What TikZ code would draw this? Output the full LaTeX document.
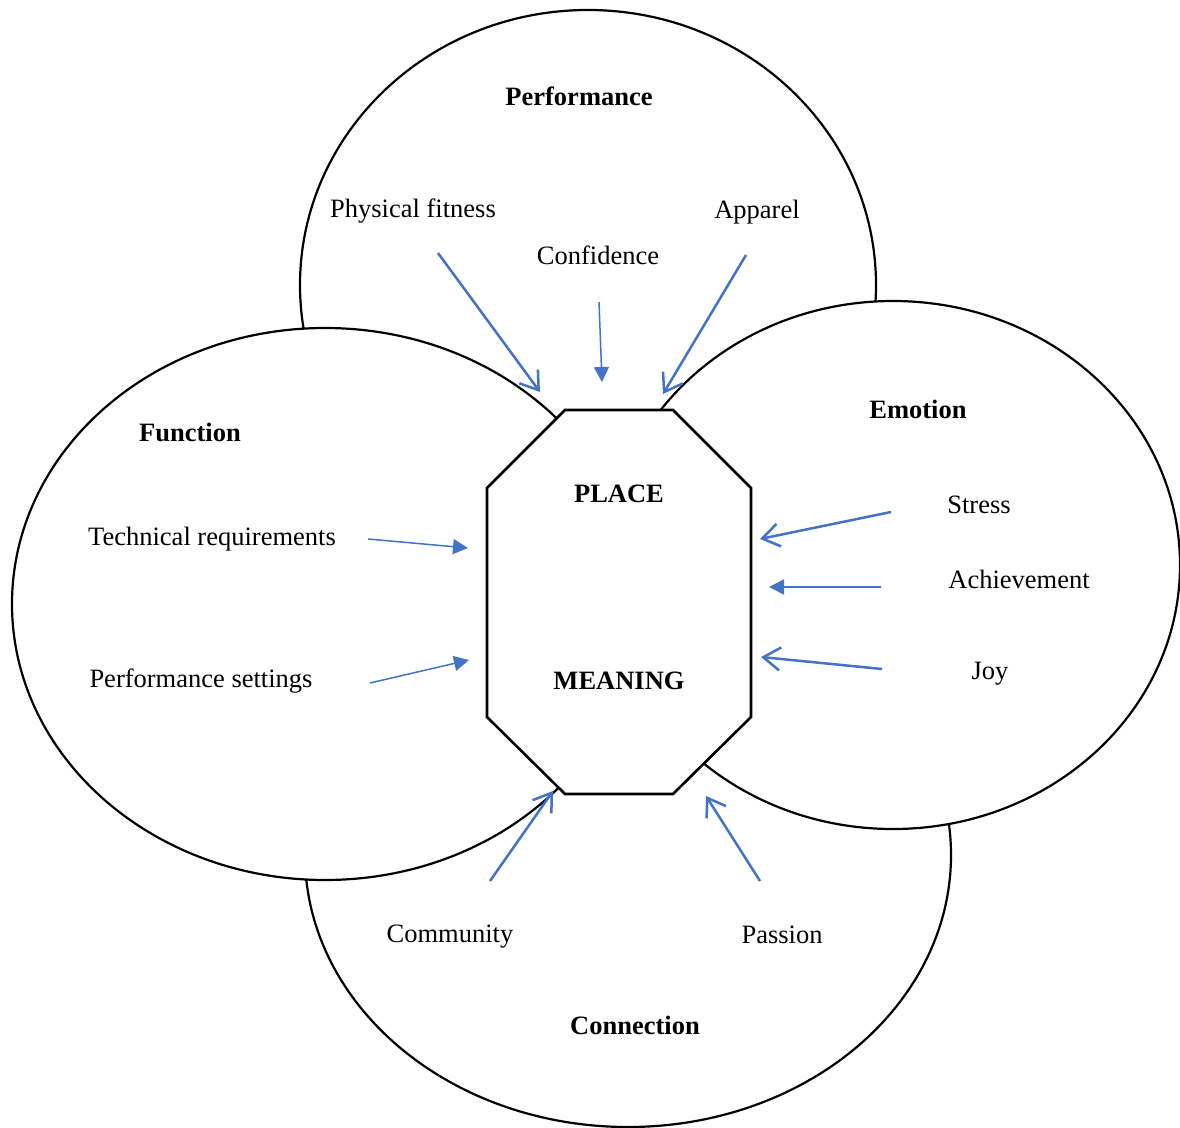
\documentclass[tikz,border=0pt]{standalone}
\usepackage{fontspec}
\setmainfont{Liberation Serif}
\usetikzlibrary{arrows.meta}
\definecolor{arrowblue}{HTML}{4472C4}
\begin{document}
\begin{tikzpicture}[x=1pt,y=-1pt,
  circle line/.style={draw=black,line width=2.2pt,fill=white},
  label text/.style={font=\fontsize{26.5}{30}\selectfont,inner sep=0pt,text height=17.5pt,text depth=0pt},
  head text/.style={label text,font=\fontsize{26.5}{30}\selectfont\bfseries},
  barb arrow/.style={draw=arrowblue,line width=2.5pt,-{Straight Barb[length=17pt,width=23pt,line width=2.5pt]}},
  tri arrow/.style={draw=arrowblue,line width=1.5pt,-{Triangle[length=15pt,width=15pt]}}]
\useasboundingbox (0,0) rectangle (1180,1127);

% four overlapping domains
\draw[circle line] (588,285) ellipse [x radius=288, y radius=275];
\draw[circle line] (628,855) ellipse [x radius=323, y radius=272];
\draw[circle line] (325,604) ellipse [x radius=313, y radius=276];
\draw[circle line] (893,565) ellipse [x radius=287, y radius=264];

% central octagon
\draw[line width=2.6pt,fill=white,line join=miter]
  (565,410) -- (673,410) -- (751,488) -- (751,717) -- (673,794)
  -- (565,794) -- (487,717) -- (487,488) -- cycle;
\node[head text] (place) at (619,494) {PLACE};
\node[head text] (meaning) at (619,681) {MEANING};

% domain titles
\node[head text] (perf) at (579,97) {Performance};
\node[head text] (emo) at (918,410) {Emotion};
\node[head text] (func) at (190,433) {Function};
\node[head text] (conn) at (635,1026) {Connection};

% factor labels
\node[label text] (fit) at (413,209) {Physical fitness};
\node[label text] (conf) at (598,256) {Confidence};
\node[label text] (app) at (757,210) {Apparel};
\node[label text] (stress) at (979,505) {Stress};
\node[label text] (ach) at (1019,580) {Achievement};
\node[label text] (joy) at (990,671) {Joy};
\node[label text] (tech) at (212,537) {Technical requirements};
\node[label text] (sett) at (201,679) {Performance settings};
\node[label text] (comm) at (450,934) {Community};
\node[label text] (pass) at (782,935) {Passion};

% arrow ends
\coordinate (fitA) at (438,253);  \coordinate (fitB) at (540,392);
\coordinate (confA) at (599,302); \coordinate (confB) at (602,382);
\coordinate (appA) at (746,255);  \coordinate (appB) at (663,394);
\coordinate (stressA) at (891,512); \coordinate (stressB) at (760,539);
\coordinate (achA) at (881,587);  \coordinate (achB) at (769,587);
\coordinate (joyA) at (882,669);  \coordinate (joyB) at (761,657);
\coordinate (techA) at (368,539); \coordinate (techB) at (468,548);
\coordinate (settA) at (370,683); \coordinate (settB) at (469,660);
\coordinate (commA) at (490,881); \coordinate (commB) at (553,791);
\coordinate (passA) at (760,881); \coordinate (passB) at (706,796);

\draw[barb arrow] (fitA) -- (fitB);
\draw[tri arrow] (confA) -- (confB);
\draw[barb arrow] (appA) -- (appB);
\draw[barb arrow] (stressA) -- (stressB);
\draw[tri arrow] (achA) -- (achB);
\draw[barb arrow] (joyA) -- (joyB);
\draw[tri arrow] (techA) -- (techB);
\draw[tri arrow] (settA) -- (settB);
\draw[barb arrow] (commA) -- (commB);
\draw[barb arrow] (passA) -- (passB);
\end{tikzpicture}
\end{document}
